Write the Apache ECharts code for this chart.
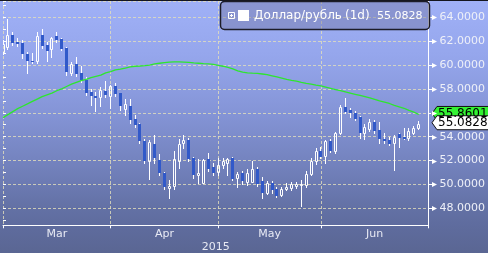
<!DOCTYPE html>
<html><head><meta charset="utf-8">
<script src="https://cdn.jsdelivr.net/npm/echarts@6/dist/echarts.min.js"></script>
<style>
html,body{margin:0;padding:0;background:#5a6693;}
#c{width:488px;height:253px;background:linear-gradient(to bottom,#a0b1f7 0%,#95a6ec 22%,#8494d6 45%,#7382bd 65%,#6371a5 82%,#5f6c9e 89%,#5a6693 100%);}
</style></head><body><div id="c"></div>
<script>
// weekday slots, 2015-03-02 .. 2015-07-01
const categories = [
 '03-02','03-03','03-04','03-05','03-06','03-09','03-10','03-11','03-12','03-13',
 '03-16','03-17','03-18','03-19','03-20','03-23','03-24','03-25','03-26','03-27','03-30','03-31',
 '04-01','04-02','04-03','04-06','04-07','04-08','04-09','04-10','04-13','04-14','04-15','04-16','04-17',
 '04-20','04-21','04-22','04-23','04-24','04-27','04-28','04-29','04-30',
 '05-01','05-04','05-05','05-06','05-07','05-08','05-11','05-12','05-13','05-14','05-15',
 '05-18','05-19','05-20','05-21','05-22','05-25','05-26','05-27','05-28','05-29',
 '06-01','06-02','06-03','06-04','06-05','06-08','06-09','06-10','06-11','06-12',
 '06-15','06-16','06-17','06-18','06-19','06-22','06-23','06-24','06-25','06-26','06-29','06-30',
 '07-01'];
const opens = [61.09,61.54,62.52,61.93,61.87,60.93,60.37,60.34,62.52,61.68,61.32,62.43,62.20,61.45,59.36,60.09,59.36,58.75,57.74,57.41,
 57.35,57.83,57.43,58.25,57.64,56.35,56.57,55.46,55.06,53.67,51.96,53.39,52.05,50.99,49.70,49.87,51.96,53.45,53.72,52.19,
 50.82,50.15,52.11,51.49,51.04,51.60,51.77,52.19,50.52,50.99,50.23,50.23,51.27,50.29,49.31,50.10,49.60,49.09,49.65,49.68,
 49.87,50.01,49.96,50.88,51.96,52.80,52.38,53.64,52.80,54.34,56.51,56.24,56.01,55.68,54.28,54.67,55.23,54.56,53.83,53.72,
 53.45,54.23,53.95,53.87,54.34,54.70];
const closes = [61.76,62.52,61.87,61.76,60.90,60.37,60.26,62.43,61.60,61.18,62.24,62.10,61.35,59.44,60.06,59.25,58.75,57.69,57.41,57.27,
 57.91,57.50,58.25,57.58,56.57,56.71,55.40,54.98,53.64,51.96,53.58,52.24,50.93,49.76,49.87,52.11,53.36,53.72,52.16,50.77,
 50.93,52.02,51.27,50.99,51.60,51.96,52.11,50.48,50.85,50.29,50.99,51.29,50.01,49.31,50.10,49.54,49.06,49.62,49.81,50.01,
 50.01,50.05,50.88,51.99,52.76,52.33,53.64,52.80,54.34,56.51,56.09,56.01,55.51,54.34,54.79,55.23,54.48,53.78,53.61,53.39,
 54.00,53.92,53.81,54.48,54.70,55.08];
const lows = [60.93,61.32,61.68,61.60,60.60,59.36,60.15,60.20,61.45,60.34,60.70,61.96,61.30,59.17,59.17,59.08,58.60,57.50,56.65,56.18,
 56.57,57.35,56.43,57.40,56.24,55.82,55.17,54.79,53.50,51.82,50.43,51.82,50.79,49.62,48.89,49.60,51.40,53.08,52.00,50.54,
 50.15,50.10,51.10,50.80,50.77,51.40,50.79,50.40,49.81,50.01,49.96,50.18,49.90,48.89,49.20,49.27,48.95,49.03,49.54,49.54,
 49.68,48.22,49.81,50.80,51.71,52.20,51.80,52.70,52.66,54.23,55.95,55.68,55.40,53.92,53.81,54.50,54.34,53.45,53.50,53.30,
 51.21,53.11,53.80,53.72,54.20,54.65];
const highs = [62.10,63.86,62.77,62.30,62.10,61.10,61.03,62.74,63.00,61.96,62.33,62.77,62.30,61.54,60.28,60.65,59.95,59.03,57.97,57.77,
 58.19,58.67,58.33,58.47,57.70,57.13,57.16,55.82,55.12,53.78,53.72,54.14,52.55,51.07,50.37,52.80,53.78,54.11,53.92,52.30,
 52.11,52.10,52.61,51.82,52.24,52.24,52.24,52.32,51.04,51.15,51.27,51.99,51.49,50.60,50.31,50.28,49.80,49.76,50.15,50.23,
 50.23,50.37,51.13,52.19,53.03,53.11,53.72,53.83,54.42,56.65,57.22,56.43,56.15,55.73,55.04,55.46,55.40,55.23,54.34,54.00,
 54.14,54.30,54.70,54.75,54.90,55.32];
const maValues = [55.60,55.85,56.10,56.35,56.55,56.75,56.95,57.15,57.35,57.50,57.65,57.85,58.00,58.20,58.40,58.55,58.70,58.80,58.95,59.05,
 59.15,59.35,59.45,59.60,59.65,59.75,59.85,59.90,59.92,59.95,60.00,60.10,60.15,60.20,60.25,60.27,60.27,60.25,60.22,60.18,
 60.15,60.12,60.10,60.05,59.97,59.90,59.80,59.68,59.52,59.40,59.35,59.32,59.30,59.25,59.20,59.10,59.00,58.90,58.80,58.72,
 58.65,58.55,58.47,58.40,58.32,58.25,58.15,58.05,57.95,57.85,57.75,57.65,57.55,57.45,57.35,57.25,57.13,57.00,56.90,56.78,
 56.62,56.50,56.38,56.20,56.05,55.86];
const monthStarts = [0,22,44,65,87];
const monthLabels = ['Mar','Apr','May','Jun'];
const monthLabelPos = [11,33,54.5,76];
const yTickValues = [48,50,52,54,56,58,60,62,64];
const yearLabel = '2015';
const yearLabelPos = 43.5;
const legendName = 'Доллар/рубль';
const legendPeriod = '(1d)';
const lastClose = '55.0828';
const lastMA = '55.8601';

const FONT = '"DejaVu Sans", sans-serif';
const ohlc = opens.map((o,i)=>[i,o,closes[i],lows[i],highs[i]]);
const chart = echarts.init(document.getElementById('c'));
const yMin = 46.576, yMax = 65.365;
const gridDash = {color:'rgba(226,222,188,0.8)',type:[3,2],width:1};

chart.setOption({
  animation:false,
  backgroundColor:'transparent',
  grid:{left:1.3,right:58.3,top:1,bottom:27.7},
  xAxis:[{
    type:'category',data:categories,boundaryGap:false,
    axisLine:{onZero:false,lineStyle:{color:'#ffffff',width:1}},
    axisTick:{show:true,length:3,interval:(idx)=>monthStarts.includes(idx),lineStyle:{color:'#ffffff'}},
    axisLabel:{show:false},
    splitLine:{show:true,interval:(idx)=>monthStarts.includes(idx),lineStyle:gridDash}
  },{
    type:'value',min:0,max:87,interval:0.5,position:'bottom',
    axisLine:{show:false},axisTick:{show:false},splitLine:{show:false},
    axisLabel:{show:true,margin:3,color:'#e8eaf4',fontFamily:FONT,fontSize:11,
      formatter:(v)=>{const k=monthLabelPos.findIndex(p=>Math.abs(p-v)<1e-6);return k>=0?monthLabels[k]:'';}}
  }],
  yAxis:[{
    type:'value',position:'right',min:yMin,max:yMax,splitNumber:9,
    axisLine:{show:true,onZero:false,lineStyle:{color:'#ffffff',width:1}},
    axisTick:{show:true,length:4,lineStyle:{color:'#ffffff',width:1}},
    axisLabel:{margin:11,color:'#eef0f8',fontFamily:FONT,fontSize:11,showMinLabel:false,showMaxLabel:false,
      formatter:(v)=>(Math.abs(v/2-Math.round(v/2))<1e-6)?v.toFixed(4):''},
    splitLine:{show:true,lineStyle:gridDash}
  },{
    type:'value',position:'right',min:yMin,max:yMax,splitNumber:19,
    axisLine:{show:false},axisLabel:{show:false},splitLine:{show:false},
    axisTick:{show:true,length:3,lineStyle:{color:'#ffffff',width:1}}
  }],
  series:[{
    type:'custom',xAxisIndex:0,yAxisIndex:0,data:ohlc,clip:true,
    encode:{x:0,y:[1,2,3,4]},
    renderItem:(params,api)=>{
      const i=api.value(0),o=api.value(1),c=api.value(2),l=api.value(3),h=api.value(4);
      const x=api.coord([i,o])[0];
      const p=Math.floor(x);
      const yO=Math.round(api.coord([i,o])[1]),yC=Math.round(api.coord([i,c])[1]);
      const yL=Math.round(api.coord([i,l])[1]),yH=Math.round(api.coord([i,h])[1]);
      const ch=[];
      const wick={stroke:'#ffffff',lineWidth:1};
      if(c>=o){
        const top=yC, bot=Math.max(yO,yC+1);
        ch.push({type:'line',shape:{x1:p+0.5,y1:yH,x2:p+0.5,y2:top},style:wick});
        ch.push({type:'line',shape:{x1:p+0.5,y1:bot+1,x2:p+0.5,y2:yL+1},style:wick});
        ch.push({type:'rect',shape:{x:p-0.5,y:top+0.5,width:2,height:bot-top},style:{fill:null,stroke:'#ffffff',lineWidth:1}});
      } else {
        const top=yO, bot=Math.max(yC,yO+1);
        ch.push({type:'line',shape:{x1:p+0.5,y1:yH,x2:p+0.5,y2:top},style:wick});
        ch.push({type:'line',shape:{x1:p+0.5,y1:bot,x2:p+0.5,y2:yL+1},style:wick});
        ch.push({type:'rect',shape:{x:p-1,y:top,width:3,height:bot-top},style:{fill:'#3159c9'}});
      }
      return {type:'group',children:ch};
    }
  },{
    type:'line',xAxisIndex:0,yAxisIndex:0,data:maValues,showSymbol:false,symbol:'none',
    lineStyle:{color:'#2ee62e',width:1.3},z:3
  }]
});

const yClose = chart.convertToPixel({yAxisIndex:0}, parseFloat(lastClose));
const yMA = chart.convertToPixel({yAxisIndex:0}, parseFloat(lastMA));
const xYear = chart.convertToPixel({xAxisIndex:1}, yearLabelPos);
const xAxisPx = chart.convertToPixel({xAxisIndex:0}, categories[categories.length-1]);
function tag(y, fill, text){
  const t=y-7, b=y+7;
  return [{type:'polygon',shape:{points:[[432,y],[437,t],[489,t],[489,b],[437,b]]},style:{fill:fill,stroke:'#111',lineWidth:1},z:10},
          {type:'text',x:438,y:y,style:{text:text,fill:'#000',font:'12px '+FONT,textVerticalAlign:'middle',textAlign:'left'},z:11}];
}
const arrows = yTickValues.map(v=>{
  const y=Math.round(chart.convertToPixel({yAxisIndex:0}, v))+0.5;
  const x0=Math.round(xAxisPx);
  return {type:'polygon',shape:{points:[[x0+3,y-2.5],[x0+8,y],[x0+3,y+2.5]]},style:{fill:'#ffffff'},z:12};
});
chart.setOption({graphic:[
  {type:'rect',shape:{x:0,y:0,width:488,height:1},style:{fill:'#15161f'},z:20},
  {type:'rect',shape:{x:220.5,y:1.5,width:209,height:28,r:4},style:{fill:'rgba(100,100,140,0.35)',stroke:'#1c1c28',lineWidth:1.5},z:20},
  {type:'rect',shape:{x:228.5,y:12.5,width:6,height:6},style:{fill:null,stroke:'#ffffff',lineWidth:1},z:21},
  {type:'line',shape:{x1:230,y1:15.5,x2:233,y2:15.5},style:{stroke:'#ffffff',lineWidth:1},z:21},
  {type:'line',shape:{x1:231.5,y1:14,x2:231.5,y2:17},style:{stroke:'#ffffff',lineWidth:1},z:21},
  {type:'rect',shape:{x:238,y:10,width:11,height:11},style:{fill:'#ffffff'},z:21},
  {type:'text',x:254,y:16,style:{text:legendName,fill:'#ffffff',font:'12px '+FONT,textVerticalAlign:'middle'},z:21},
  {type:'text',x:345,y:16,style:{text:legendPeriod,fill:'#ffffff',font:'12px '+FONT,textVerticalAlign:'middle'},z:21},
  {type:'text',x:377,y:16,style:{text:lastClose,fill:'#ffffff',font:'11px '+FONT,textVerticalAlign:'middle'},z:21},
  {type:'text',x:xYear,y:247,style:{text:yearLabel,fill:'#e8eaf4',font:'11px '+FONT,textVerticalAlign:'middle',textAlign:'center'},z:21},
  ...arrows,
  ...tag(yMA-1,'#33f233',lastMA),
  ...tag(yClose-1,'#ffffff',lastClose)
]});
</script></body></html>
